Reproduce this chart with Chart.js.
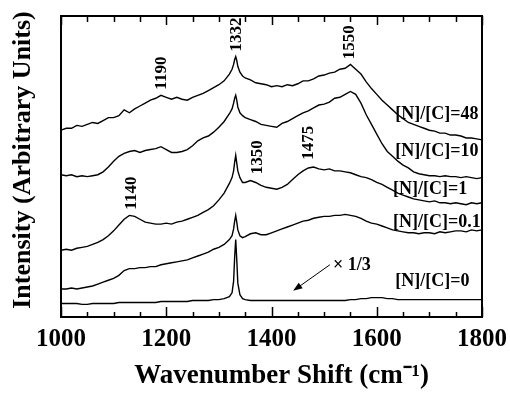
<!DOCTYPE html>
<html>
<head>
<meta charset="utf-8">
<script src="https://cdn.jsdelivr.net/npm/chart.js"></script>
<style>
  html, body { margin: 0; padding: 0; background: #fff; }
  canvas { display: block; }
</style>
</head>
<body>
<canvas id="ramanChart" width="510" height="394"></canvas>
<script>
// ============================================================
// data (intensity in arbitrary units)
// ============================================================
const wavenumbers = [
  1000, 1010, 1020, 1030, 1040, 1050, 1060, 1070, 1080, 1090,
  1100, 1110, 1120, 1130, 1140, 1150, 1160, 1170, 1180, 1190,
  1200, 1210, 1220, 1230, 1240, 1250, 1260, 1270, 1280, 1290,
  1300, 1310, 1320, 1325, 1328, 1330, 1332, 1334, 1336, 1340, 1345,
  1350, 1360, 1370, 1380, 1390, 1400, 1410, 1420, 1430, 1440,
  1450, 1460, 1470, 1480, 1490, 1500, 1510, 1520, 1530, 1540,
  1550, 1560, 1570, 1580, 1590, 1600, 1610, 1620, 1630, 1640,
  1650, 1660, 1670, 1680, 1690, 1700, 1710, 1720, 1730, 1740,
  1750, 1760, 1770, 1780, 1790, 1800
];

const nc48 = [
  193, 195, 195, 198, 197, 199, 201, 200, 203, 206,
  206, 208, 214, 211, 215, 218, 221, 224, 226, 229,
  227, 225, 227, 225, 224, 227, 229, 231, 234, 237,
  240, 244, 251, 256, 261, 266, 269, 265, 259, 253, 249,
  247, 245, 242, 241, 240, 238, 239, 238, 240, 239,
  241, 244, 244, 246, 249, 250, 252, 253, 256, 257,
  261, 256, 251, 243, 236, 230, 224, 219, 214, 209,
  205, 201, 199, 197, 195, 193, 192, 190, 190, 188,
  188, 187, 185, 185, 184, 183
];

const nc10 = [
  147, 146, 147, 145, 146, 145, 146, 147, 150, 155,
  161, 166, 169, 171, 172, 170, 172, 173, 174, 176,
  173, 170, 170, 171, 173, 177, 182, 185, 187, 191,
  196, 202, 210, 215, 221, 226, 229, 224, 217, 211, 208,
  206, 204, 202, 199, 198, 197, 196, 200, 202, 205,
  208, 211, 213, 216, 219, 220, 222, 226, 227, 230,
  233, 230, 221, 209, 199, 189, 179, 171, 166, 161,
  157, 154, 150, 148, 147, 146, 146, 145, 146, 145,
  145, 144, 145, 144, 143, 144
];

const nc1 = [
  69, 70, 69, 71, 72, 73, 75, 77, 80, 84,
  89, 95, 101, 105, 104, 101, 98, 97, 96, 96,
  97, 96, 98, 99, 101, 103, 105, 108, 111, 115,
  121, 128, 138, 144, 151, 160, 167, 159, 151, 144, 139,
  139, 141, 139, 136, 134, 133, 132, 134, 137, 142,
  147, 151, 154, 155, 153, 152, 153, 151, 151, 150,
  149, 147, 145, 144, 142, 139, 137, 134, 131, 128,
  126, 124, 122, 121, 120, 119, 120, 118, 118, 117,
  118, 117, 116, 118, 117, 118
];

const nc01 = [
  29, 29, 30, 29, 30, 31, 32, 34, 36, 38,
  40, 43, 48, 50, 50, 51, 51, 52, 52, 54,
  55, 56, 57, 58, 59, 61, 63, 65, 67, 70,
  72, 75, 80, 84, 91, 99, 105, 98, 90, 84, 82,
  83, 86, 87, 85, 85, 87, 89, 91, 93, 95,
  97, 99, 100, 102, 103, 104, 104, 105, 105, 106,
  105, 104, 102, 99, 97, 96, 94, 92, 90, 89,
  88, 87, 87, 86, 87, 87, 86, 88, 87, 88,
  89, 89, 88, 90, 89, 90
];

const nc0 = [
  14, 14, 14, 14, 13, 13, 14, 14, 14, 14,
  14, 15, 15, 15, 15, 15, 15, 15, 15, 16,
  16, 16, 16, 16, 16, 17, 17, 17, 17, 18,
  18, 19, 21, 25, 37, 62, 80, 59, 35, 23, 19,
  18, 17, 17, 17, 17, 17, 17, 17, 17, 17,
  17, 17, 17, 17, 17, 17, 17, 17, 17, 17,
  18, 18, 19, 19, 20, 20, 20, 19, 19, 18,
  18, 18, 18, 18, 18, 18, 18, 18, 18, 18,
  18, 18, 18, 18, 18, 18
];

const xTickValues = [1000, 1050, 1100, 1150, 1200, 1250, 1300, 1350, 1400,
  1450, 1500, 1550, 1600, 1650, 1700, 1750, 1800];
const xMajorTicks = [1000, 1200, 1400, 1600, 1800];

// peak annotations (rotated)
const peakLabels = ['1190', '1332', '1550', '1350', '1475', '1140'];
const peakLabelX = [1192, 1333, 1549, 1374, 1470, 1135];
const peakLabelY = [252, 292, 284, 165, 180, 128];

// series names, left edge + middle
const seriesLabels = ['[N]/[C]=48', '[N]/[C]=10', '[N]/[C]=1', '[N]/[C]=0.1', '[N]/[C]=0'];
const seriesLabelX = [1635, 1635, 1631, 1631, 1635];
const seriesLabelY = [209, 171, 132, 98, 37];

const SERIF = "'Liberation Serif', 'Times New Roman', serif";

// ============================================================
// frame, inward ticks and text annotations
// ============================================================
const annotatePlugin = {
    id: 'annotate',
    afterDatasetsDraw(chart) {
        const { ctx, chartArea: a, scales: { x, y } } = chart;
        ctx.save();
        ctx.fillStyle = '#000';
        ctx.strokeStyle = '#000';

        // rotated peak positions
        ctx.font = 'bold 17px ' + SERIF;
        ctx.textAlign = 'center';
        ctx.textBaseline = 'middle';
        peakLabels.forEach((t, i) => {
            ctx.save();
            ctx.translate(x.getPixelForValue(peakLabelX[i]), y.getPixelForValue(peakLabelY[i]));
            ctx.rotate(-Math.PI / 2);
            ctx.fillText(t, 0, 0);
            ctx.restore();
        });

        // series names
        ctx.font = 'bold 18px ' + SERIF;
        ctx.textAlign = 'left';
        seriesLabels.forEach((t, i) => {
            ctx.fillText(t, x.getPixelForValue(seriesLabelX[i]), y.getPixelForValue(seriesLabelY[i]));
        });

        // "x 1/3" and the arrow to the bottom trace
        ctx.fillText('\u00d7 1/3', x.getPixelForValue(1517), y.getPixelForValue(53));
        const x0 = x.getPixelForValue(1511), y0 = y.getPixelForValue(54);
        const x1 = x.getPixelForValue(1441), y1 = y.getPixelForValue(27);
        const ang = Math.atan2(y1 - y0, x1 - x0);
        ctx.lineWidth = 1;
        ctx.beginPath();
        ctx.moveTo(x0, y0);
        ctx.lineTo(x1 - 6 * Math.cos(ang), y1 - 6 * Math.sin(ang));
        ctx.stroke();
        ctx.beginPath();
        ctx.moveTo(x1, y1);
        ctx.lineTo(x1 - 10 * Math.cos(ang - 0.35), y1 - 10 * Math.sin(ang - 0.35));
        ctx.lineTo(x1 - 10 * Math.cos(ang + 0.35), y1 - 10 * Math.sin(ang + 0.35));
        ctx.closePath();
        ctx.fill();

        // inward ticks on top and bottom
        ctx.lineWidth = 1.5;
        xTickValues.forEach(v => {
            const px = Math.round(x.getPixelForValue(v)) + 0.5;
            const major = xMajorTicks.includes(v);
            ctx.beginPath();
            ctx.moveTo(px, a.bottom);
            ctx.lineTo(px, a.bottom - (major ? 10 : 5));
            ctx.moveTo(px, a.top);
            ctx.lineTo(px, a.top + (major ? 9 : 6));
            ctx.stroke();
        });

        // frame
        ctx.lineWidth = 2;
        ctx.strokeRect(a.left, a.top, a.right - a.left, a.bottom - a.top);
        ctx.restore();
    }
};

const toPoints = vals => wavenumbers.map((w, i) => ({ x: w, y: vals[i] }));
const trace = vals => ({
    data: toPoints(vals),
    borderColor: '#000',
    borderWidth: 1.4,
    pointRadius: 0,
    fill: false,
    tension: 0
});

Chart.defaults.font.family = SERIF;
Chart.defaults.color = '#000';

new Chart(document.getElementById('ramanChart'), {
    type: 'line',
    data: {
        datasets: [trace(nc48), trace(nc10), trace(nc1), trace(nc01), trace(nc0)]
    },
    options: {
        responsive: false,
        animation: false,
        layout: { padding: { left: 0, right: 28, top: 16, bottom: 3 } },
        plugins: {
            legend: { display: false },
            tooltip: { enabled: false }
        },
        scales: {
            x: {
                type: 'linear',
                min: 1000,
                max: 1800,
                grid: { display: false, drawTicks: false },
                border: { display: false },
                // end labels may hang over the frame, don't shrink the plot for them
                afterFit: s => { s.paddingLeft = 0; s.paddingRight = 0; },
                ticks: {
                    stepSize: 200,
                    padding: 10,
                    maxRotation: 0,
                    font: { size: 25, weight: 'bold', lineHeight: 1 },
                    callback: v => String(v)
                },
                title: {
                    display: true,
                    text: '   Wavenumber Shift (cm\u207b\u00b9)',
                    font: { size: 27, weight: 'bold', lineHeight: 1 },
                    padding: { top: 1, bottom: 1 }
                }
            },
            y: {
                type: 'linear',
                min: 0,
                max: 311,
                grid: { display: false, drawTicks: false },
                border: { display: false },
                ticks: { display: false },
                title: {
                    display: true,
                    text: '  Intensity (Arbitrary Units)',
                    font: { size: 26, weight: 'bold', lineHeight: 1 },
                    padding: { top: 10, bottom: 25 }
                }
            }
        }
    },
    plugins: [annotatePlugin]
});
</script>
</body>
</html>
